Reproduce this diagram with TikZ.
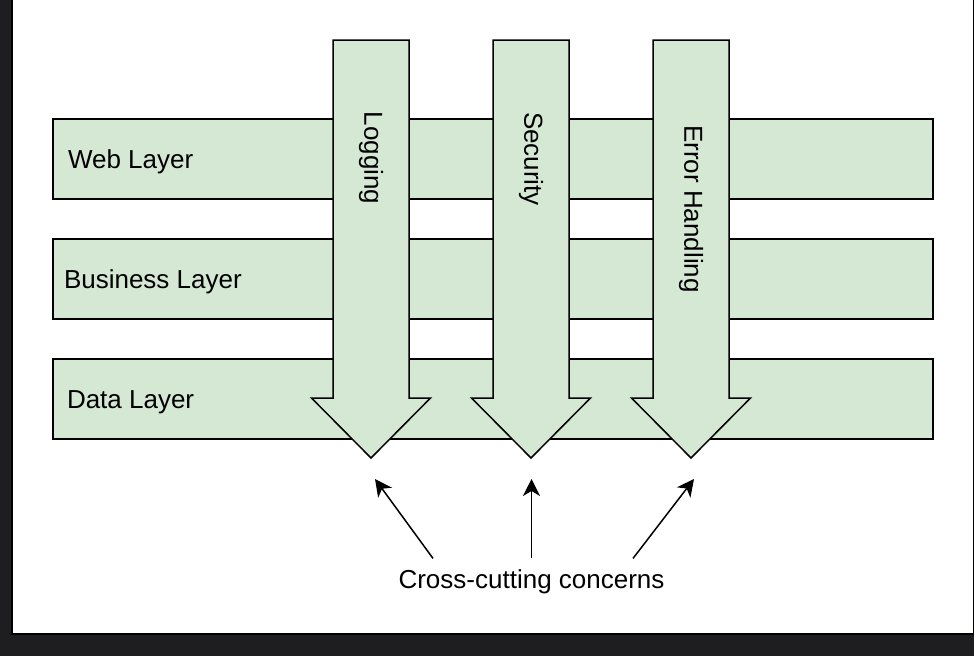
\documentclass[tikz,border=0pt]{standalone}
\usepackage{fontspec}
\setmainfont{Liberation Sans}
\usetikzlibrary{
    arrows.meta,
    positioning
}

\definecolor{layergreen}{HTML}{D5E8D4}
\definecolor{darkbg}{RGB}{30,30,32}

\begin{document}
\begin{tikzpicture}[x=1pt,y=-1pt,>={Stealth[length=17pt,width=17pt,inset=5pt]},line width=1.5pt]
    \tikzstyle{layer}=[draw, fill=layergreen, minimum width=880pt, minimum height=80pt, inner sep=0pt]
    \tikzstyle{concern}=[draw, fill=layergreen, line join=miter]
    \tikzstyle{caption}=[font=\fontsize{26}{31}\selectfont, inner sep=0pt]
    \useasboundingbox (0,0) rectangle (974,656);
    \fill [darkbg] (0,0) rectangle (974,656);
    \filldraw [fill=white, draw=black, line width=2pt] (12.3,-10) rectangle (973.5,634.3);

    % layers
    \node [layer] (web) at (493,159) {};
    \node [layer] (business) at (493,279) {};
    \node [layer] (data) at (493,399) {};
    \node [caption, right=15pt of web.west, anchor=base west, yshift=-9pt] (webtext) {Web Layer};
    \node [caption, right=11pt of business.west, anchor=base west, yshift=-9pt] (businesstext) {Business Layer};
    \node [caption, right=14pt of data.west, anchor=base west, yshift=-9pt] (datatext) {Data Layer};

    % concerns
    \draw [concern] (333,40) -- (409,40) -- (409,398) -- (430.5,398) -- (371,458) -- (311.5,398) -- (333,398) -- cycle;
    \draw [concern] (493,40) -- (569,40) -- (569,398) -- (590.5,398) -- (531,458) -- (471.5,398) -- (493,398) -- cycle;
    \draw [concern] (653,40) -- (729,40) -- (729,398) -- (750.5,398) -- (691,458) -- (631.5,398) -- (653,398) -- cycle;
    \node [caption, rotate=-90] (logging) at (371,158) {Logging};
    \node [caption, rotate=-90] (security) at (531,159) {Security};
    \node [caption, rotate=-90] (errors) at (691,209) {Error Handling};

    \coordinate (logend) at (375,479);
    \coordinate (secend) at (531.5,479);
    \coordinate (errend) at (694,479);
    \node [caption, anchor=base, inner sep=10pt] (concerns) at (531.5,588) {Cross-cutting concerns};

    \draw [->] ([xshift=-98.5pt]concerns.north) -- (logend);
    \draw [->] (concerns.north) -- (secend);
    \draw [->] ([xshift=101.5pt]concerns.north) -- (errend);
\end{tikzpicture}
\end{document}
